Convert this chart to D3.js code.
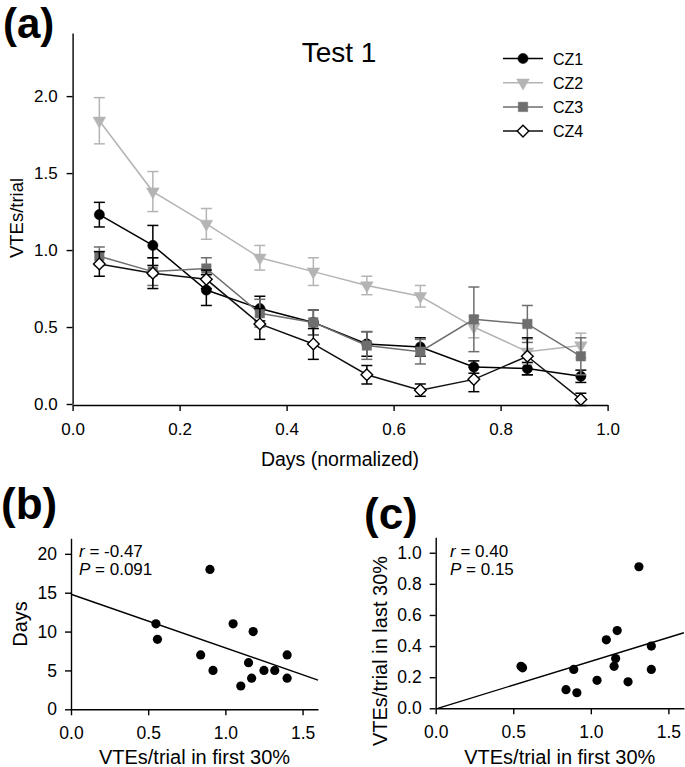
<!DOCTYPE html>
<html>
<head>
<meta charset="utf-8">
<script src="https://cdn.jsdelivr.net/npm/d3@7"></script>
<style>
  body { margin: 0; background: #fff; }
  svg { font-family: "Liberation Sans", Arial, sans-serif; }
  .axis path, .axis line { stroke: #000; stroke-width: 1.4; }
  .axis text { fill: #000; }
</style>
</head>
<body>
<div id="chart"></div>
<script>
// ---- panel (a) data ----
var days = [0.05, 0.15, 0.25, 0.35, 0.45, 0.55, 0.65, 0.75, 0.85, 0.95];
var seriesNames = ["CZ1", "CZ2", "CZ3", "CZ4"];
var cz1 = [1.23, 1.03, 0.74, 0.62, 0.53, 0.39, 0.37, 0.24, 0.23, 0.18];
var cz1Err = [0.08, 0.13, 0.10, 0.08, 0.08, 0.08, 0.06, 0.04, 0.04, 0.04];
var cz2 = [1.84, 1.38, 1.17, 0.95, 0.86, 0.77, 0.70, 0.50, 0.34, 0.38];
var cz2Err = [0.15, 0.13, 0.10, 0.08, 0.09, 0.06, 0.07, 0.07, 0.08, 0.08];
var cz3 = [0.96, 0.86, 0.88, 0.59, 0.53, 0.38, 0.34, 0.55, 0.52, 0.31];
var cz3Err = [0.06, 0.09, 0.07, 0.09, 0.08, 0.09, 0.08, 0.21, 0.12, 0.12];
var cz4 = [0.91, 0.85, 0.81, 0.52, 0.39, 0.19, 0.09, 0.16, 0.31, 0.03];
var cz4Err = [0.08, 0.10, 0.06, 0.10, 0.10, 0.06, 0.04, 0.08, 0.12, 0.04];
var aXTicks = [0, 0.2, 0.4, 0.6, 0.8, 1.0];
var aYTicks = [0, 0.5, 1.0, 1.5, 2.0];

// ---- panel (b) ----
var bFirst = [0.55, 0.56, 0.90, 0.84, 0.92, 1.05, 1.18, 1.15, 1.10, 1.17, 1.25, 1.32, 1.40, 1.40];
var bDays = [11, 9, 18, 7, 5, 11, 10, 6, 3, 4, 5, 5, 7, 4];
var fitB = [14.8, -6.9];          // intercept, slope
var statsB = ["-0.47", "0.091"];  // r, P
var bYTicks = [0, 5, 10, 15, 20];

// ---- panel (c) ----
var cFirst = [0.55, 0.56, 1.31, 1.10, 1.17, 0.89, 0.84, 0.91, 1.04, 1.15, 1.16, 1.24, 1.39, 1.39];
var cLast = [0.27, 0.26, 0.91, 0.44, 0.50, 0.25, 0.12, 0.10, 0.18, 0.27, 0.32, 0.17, 0.40, 0.25];
var fitC = [-0.004, 0.306];
var statsC = ["0.40", "0.15"];
var cYTicks = [0, 0.2, 0.4, 0.6, 0.8, 1.0];
var bcXTicks = [0, 0.5, 1.0, 1.5];

var svg = d3.select("#chart").append("svg")
    .attr("width", 685)
    .attr("height", 767);

var fmt1 = d3.format(".1f");

// ================= (a) =================
var xA = d3.scaleLinear().domain([0, 1]).range([72.6, 607.6]);
var yA = d3.scaleLinear().domain([0, 2.41]).range([404, 33]);

svg.append("g")
    .attr("class", "axis")
    .attr("transform", "translate(0,405)")
    .call(d3.axisBottom(xA).tickValues(aXTicks).tickFormat(fmt1).tickSizeOuter(0).tickPadding(12))
    .selectAll("text").style("font-size", "17px");

svg.append("g")
    .attr("class", "axis")
    .attr("transform", "translate(72.6,0)")
    .call(d3.axisLeft(yA).tickValues(aYTicks).tickFormat(fmt1).tickSizeOuter(0).tickPadding(9))
    .selectAll("text").style("font-size", "17px");

svg.selectAll(".axis").attr("font-family", null).attr("font-size", null);

svg.append("text")
    .attr("x", 340).attr("y", 466)
    .attr("text-anchor", "middle")
    .style("font-size", "19.5px")
    .text("Days (normalized)");

svg.append("text")
    .attr("transform", "translate(23,218) rotate(-90)")
    .attr("text-anchor", "middle")
    .style("font-size", "18.5px")
    .text("VTEs/trial");

svg.append("text")
    .attr("x", 339).attr("y", 62)
    .attr("text-anchor", "middle")
    .style("font-size", "28px")
    .text("Test 1");

var series = [
  {name: "CZ1", vals: cz1, err: cz1Err, line: "#000", fill: "#000", stroke: "#000", shape: "circle"},
  {name: "CZ2", vals: cz2, err: cz2Err, line: "#b4b4b4", fill: "#b4b4b4", stroke: "#b4b4b4", shape: "tri"},
  {name: "CZ3", vals: cz3, err: cz3Err, line: "#6e6e6e", fill: "#6e6e6e", stroke: "#6e6e6e", shape: "square"},
  {name: "CZ4", vals: cz4, err: cz4Err, line: "#111", fill: "#fff", stroke: "#000", shape: "diamond"}
];

function markerPath(shape) {
  if (shape == "circle") return d3.symbol().type(d3.symbolCircle).size(82)();
  if (shape == "tri") return d3.symbol().type(d3.symbolTriangle).size(70)();
  if (shape == "square") return d3.symbol().type(d3.symbolSquare).size(90)();
  return d3.symbol().type(d3.symbolSquare).size(68)();
}
function markerRot(shape) {
  if (shape == "tri") return " rotate(180)";
  if (shape == "diamond") return " rotate(45)";
  return "";
}

var line = d3.line()
    .x(function(d, i) { return xA(days[i]); })
    .y(function(d) { return yA(d); });

for (var s = 0; s < series.length; s++) {
  var sr = series[s];
  var g = svg.append("g").attr("class", "series-" + sr.name);

  g.append("path")
      .attr("d", line(sr.vals))
      .attr("fill", "none")
      .attr("stroke", sr.line)
      .attr("stroke-width", 1.5);

  var eb = g.selectAll(".eb")
      .data(sr.vals)
      .enter().append("g")
      .attr("class", "eb")
      .attr("stroke", sr.shape == "diamond" ? "#000" : sr.line)
      .attr("stroke-width", 1.5);
  eb.append("line")
      .attr("x1", function(d, i) { return xA(days[i]); })
      .attr("x2", function(d, i) { return xA(days[i]); })
      .attr("y1", function(d, i) { return yA(d + sr.err[i]); })
      .attr("y2", function(d, i) { return yA(d - sr.err[i]); });
  eb.append("line")
      .attr("x1", function(d, i) { return xA(days[i]) - 5.5; })
      .attr("x2", function(d, i) { return xA(days[i]) + 5.5; })
      .attr("y1", function(d, i) { return yA(d + sr.err[i]); })
      .attr("y2", function(d, i) { return yA(d + sr.err[i]); });
  eb.append("line")
      .attr("x1", function(d, i) { return xA(days[i]) - 5.5; })
      .attr("x2", function(d, i) { return xA(days[i]) + 5.5; })
      .attr("y1", function(d, i) { return yA(d - sr.err[i]); })
      .attr("y2", function(d, i) { return yA(d - sr.err[i]); });

  g.selectAll(".mk")
      .data(sr.vals)
      .enter().append("path")
      .attr("class", "mk")
      .attr("d", markerPath(sr.shape))
      .attr("transform", function(d, i) { return "translate(" + xA(days[i]) + "," + yA(d) + ")" + markerRot(sr.shape); })
      .attr("fill", sr.fill)
      .attr("stroke", sr.stroke)
      .attr("stroke-width", sr.shape == "diamond" ? 1.4 : 0.5);
}

// legend
var legend = svg.append("g").attr("class", "legend");
for (var k = 0; k < series.length; k++) {
  var ly = 58.5 + k * 24.2;
  legend.append("line")
      .attr("x1", 503).attr("x2", 543)
      .attr("y1", ly).attr("y2", ly)
      .attr("stroke", series[k].line)
      .attr("stroke-width", 1.5);
  legend.append("path")
      .attr("d", markerPath(series[k].shape))
      .attr("transform", "translate(523," + ly + ")" + markerRot(series[k].shape))
      .attr("fill", series[k].fill)
      .attr("stroke", series[k].stroke)
      .attr("stroke-width", series[k].shape == "diamond" ? 1.4 : 0.5);
  legend.append("text")
      .attr("x", 553).attr("y", ly + 6)
      .style("font-size", "16px")
      .text(seriesNames[k]);
}

svg.append("text")
    .attr("x", 3).attr("y", 38)
    .style("font-size", "42px")
    .style("font-weight", "bold")
    .text("(a)");

// ================= (b) and (c) =================
function scatterPanel(opt) {
  var x = d3.scaleLinear().domain([0, 1.6]).range(opt.xr);
  var y = d3.scaleLinear().domain(opt.yd).range(opt.yr);

  svg.append("g")
      .attr("class", "axis")
      .attr("transform", "translate(0," + opt.yr[0] + ")")
      .call(d3.axisBottom(x).tickValues(bcXTicks).tickFormat(fmt1).tickSizeOuter(0).tickPadding(11))
      .selectAll("text").style("font-size", "17.5px");

  svg.append("g")
      .attr("class", "axis")
      .attr("transform", "translate(" + opt.xr[0] + ",0)")
      .call(d3.axisLeft(y).tickValues(opt.yTicks).tickFormat(opt.yFmt).tickSizeOuter(0).tickPadding(8))
      .selectAll("text").style("font-size", "17.5px");

  svg.selectAll(".axis").attr("font-family", null).attr("font-size", null);

  // regression line, clipped to y >= 0
  var x0 = 0;
  if (opt.fit[0] < 0) x0 = -opt.fit[0] / opt.fit[1];
  svg.append("line")
      .attr("x1", x(x0)).attr("y1", y(opt.fit[0] + opt.fit[1] * x0))
      .attr("x2", x(1.6)).attr("y2", y(opt.fit[0] + opt.fit[1] * 1.6))
      .attr("stroke", "#000")
      .attr("stroke-width", 1.4);

  svg.selectAll(".dot-" + opt.id)
      .data(opt.xs)
      .enter().append("circle")
      .attr("class", "dot-" + opt.id)
      .attr("cx", function(d) { return x(d); })
      .attr("cy", function(d, i) { return y(opt.ys[i]); })
      .attr("r", 4.6)
      .attr("fill", "#000");

  var st = svg.append("g").style("font-size", "17px");
  var t1 = st.append("text").attr("x", opt.statX).attr("y", 557);
  t1.append("tspan").style("font-style", "italic").text("r");
  t1.append("tspan").text(" = " + opt.stats[0]);
  var t2 = st.append("text").attr("x", opt.statX).attr("y", 575);
  t2.append("tspan").style("font-style", "italic").text("P");
  t2.append("tspan").text(" = " + opt.stats[1]);

  svg.append("text")
      .attr("x", (opt.xr[0] + opt.xr[1]) / 2).attr("y", 764)
      .attr("text-anchor", "middle")
      .style("font-size", "20px")
      .text("VTEs/trial in first 30%");

  svg.append("text")
      .attr("transform", "translate(" + opt.yTitle[0] + "," + opt.yTitle[1] + ") rotate(-90)")
      .attr("text-anchor", "middle")
      .style("font-size", "20px")
      .text(opt.yLabel);

  svg.append("text")
      .attr("x", opt.tag[0]).attr("y", opt.tag[1])
      .style("font-size", "44px")
      .style("font-weight", "bold")
      .text(opt.tagText);
}

scatterPanel({
  id: "b", xr: [71, 318], yd: [0, 22], yr: [709.3, 538.3],
  yTicks: bYTicks, yFmt: d3.format("d"),
  xs: bFirst, ys: bDays, fit: fitB, stats: statsB, statX: 79,
  yLabel: "Days", yTitle: [27, 624],
  tag: [1, 519], tagText: "(b)"
});

scatterPanel({
  id: "c", xr: [435.7, 683.9], yd: [0, 1.1], yr: [708.3, 537.2],
  yTicks: cYTicks, yFmt: fmt1,
  xs: cFirst, ys: cLast, fit: fitC, stats: statsC, statX: 450,
  yLabel: "VTEs/trial in last 30%", yTitle: [387, 651],
  tag: [364, 529], tagText: "(c)"
});
</script>
</body>
</html>
